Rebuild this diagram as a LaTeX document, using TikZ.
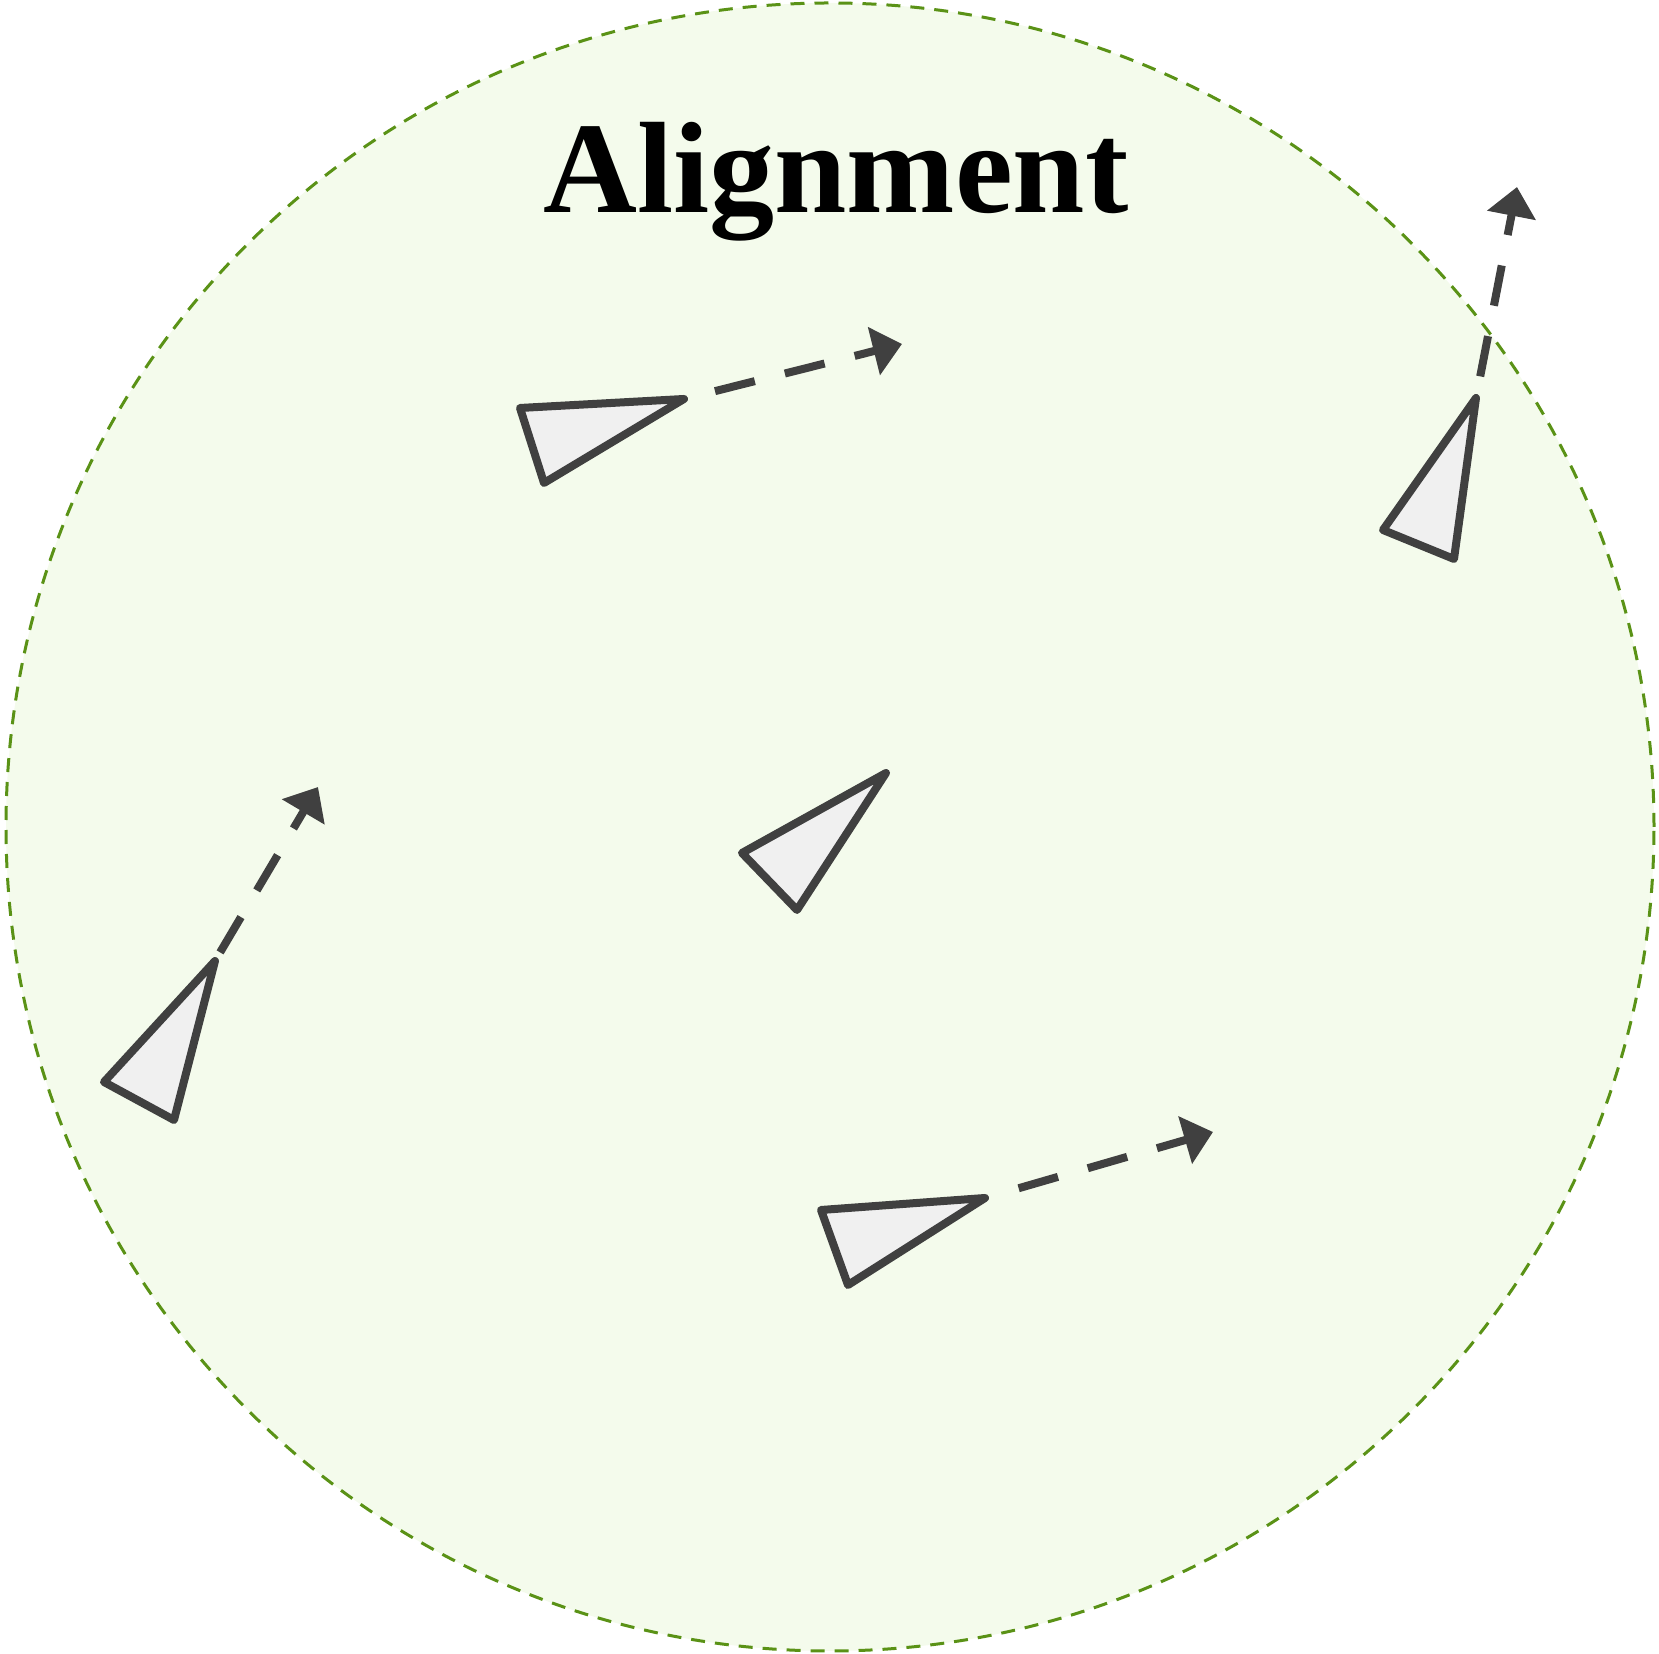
\documentclass[tikz,border=0pt]{standalone}
\usepackage{fontspec}
\setmainfont{Liberation Serif}
\usepackage{tikz}
\usetikzlibrary{arrows.meta}

\definecolor{zonefill}{HTML}{F4FBEC}
\definecolor{zoneline}{HTML}{5A9216}
\definecolor{boidline}{HTML}{404040}
\definecolor{boidfill}{HTML}{F0F0F0}

\tikzset{
  zone/.style={draw=zoneline, fill=zonefill, line width=0.03cm, dash pattern=on 0.14cm off 0.10cm},
  boid/.style={draw=boidline, fill=boidfill, line width=0.08cm, line join=round},
  heading/.style={draw=boidline, line width=0.08cm, dash pattern=on 0.41cm off 0.31cm,
                  -{Triangle[length=0.29cm,width=0.48cm]}}
}

\begin{document}
\begin{tikzpicture}
\useasboundingbox (0,0) rectangle (16.59,16.54);

% neighbourhood
\draw[zone] (8.30,8.27) circle (8.24);
\node[anchor=base, font=\bfseries\fontsize{37}{44}\selectfont] (title) at (8.36,14.41) {Alignment};

% boids (a, b = nose, c)
\coordinate (b1a) at (5.20,12.46);
\coordinate (b1b) at (6.84,12.55);
\coordinate (b1c) at (5.44,11.71);
\coordinate (h1)  at (9.02,13.10);

\coordinate (b2a) at (14.76,12.56);
\coordinate (b2b) at (13.83,11.24);
\coordinate (b2c) at (14.54,10.95);
\coordinate (h2)  at (15.17,14.67);

\coordinate (b3a) at (8.86,8.81);
\coordinate (b3b) at (7.42,8.01);
\coordinate (b3c) at (7.97,7.44);

\coordinate (b4a) at (2.15,6.93);
\coordinate (b4b) at (1.04,5.72);
\coordinate (b4c) at (1.74,5.34);
\coordinate (h4)  at (3.18,8.67);

\coordinate (b5a) at (8.21,4.44);
\coordinate (b5b) at (9.85,4.56);
\coordinate (b5c) at (8.48,3.69);
\coordinate (h5)  at (12.13,5.22);

\draw[boid] (b1a) -- (b1b) -- (b1c) -- cycle;
\draw[boid] (b2a) -- (b2b) -- (b2c) -- cycle;
\draw[boid] (b3a) -- (b3b) -- (b3c) -- cycle;
\draw[boid] (b4a) -- (b4b) -- (b4c) -- cycle;
\draw[boid] (b5a) -- (b5b) -- (b5c) -- cycle;

% headings
\draw[heading, shorten <=0.32cm] (b1b) -- (h1);
\draw[heading, shorten <=0.22cm] (b2a) -- (h2);
\draw[heading, shorten <=0.10cm] (b4a) -- (h4);
\draw[heading, shorten <=0.35cm] (b5b) -- (h5);
\end{tikzpicture}
\end{document}
